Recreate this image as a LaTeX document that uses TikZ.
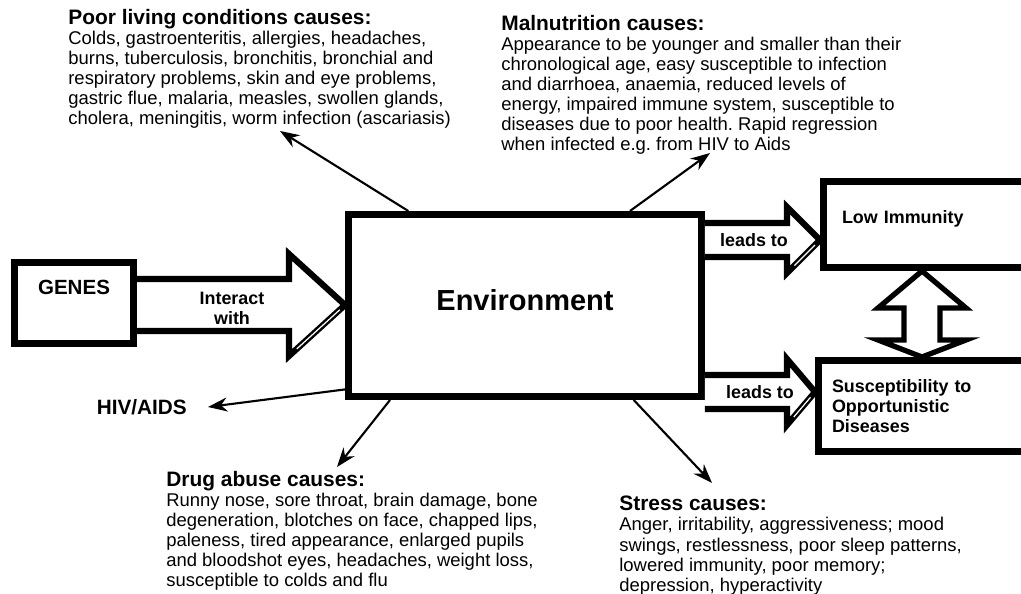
\documentclass[tikz,border=0pt]{standalone}
\usepackage{fontspec}
\setmainfont{Liberation Sans}
\usetikzlibrary{arrows.meta,positioning,calc}
\frenchspacing

\newcommand{\causetitle}[1]{{\bfseries\fontsize{11.9}{11.4}\selectfont #1}}

\begin{document}
\begin{tikzpicture}[x=0.02cm,y=-0.02cm]
	\tikzset{
		box/.style={draw, line width=4pt, fill=white, inner sep=0pt, font={\bfseries\fontsize{10.2}{11.4}\selectfont}},
		blkarrow/.style={draw, line width=3.5pt, line join=miter, fill=white},
		conn/.style={-{Stealth[length=11pt,width=8pt]}, line width=1.2pt},
		causes/.style={anchor=north west, inner sep=0pt, align=left, font={\fontsize{10.5}{11.4}\selectfont}},
		lbl/.style={font={\bfseries\fontsize{10.2}{11.4}\selectfont}, align=center, inner sep=0pt},
	}

	\useasboundingbox (0,0) rectangle (1021,594);
	\clip (0,0) rectangle (1021,594);

	% boxes
	\node[box, minimum width=2.38cm, minimum height=1.62cm, text depth=0.64cm, font={\bfseries\fontsize{11.7}{12}\selectfont}] (genes) at (74,303) {GENES};
	\node[box, minimum width=7.06cm, minimum height=3.64cm, text depth=0.22cm, font={\bfseries\fontsize{16.5}{18}\selectfont}] (env) at (525,305.5) {Environment};
	\node[box, minimum width=4.73cm, minimum height=1.72cm, text width=3.99cm, align=left, text depth=0.31cm] (low) at (941.75,224.5) {Low Immunity};
	\node[box, minimum width=4.83cm, minimum height=1.82cm, text width=4.29cm, align=left] (susc) at (939.25,406) {Susceptibility to\\Opportunistic\\Diseases};

	% block arrows
	\draw[blkarrow] (genes.east |- 0,279) -- (289,279) -- (289,254) -- (env.west |- 0,305) -- (289,356) -- (289,331) -- (genes.east |- 0,331);
	\draw[white, line width=0.7pt, shorten <=6pt, shorten >=4pt] (289,356) -- (env.west |- 0,305);
	\node[lbl] (interact) at (232,308) {Interact\\with};

	\foreach \y/\dst in {240/low, 392/susc}
		{
			\draw[blkarrow] (env.east |- 0,\y-17) -- (787,\y-17) -- (787,\y-33) -- (\dst.west |- 0,\y) -- (787,\y+33) -- (787,\y+17) -- (env.east |- 0,\y+17);
			\draw[white, line width=0.7pt, shorten <=6pt, shorten >=4pt] (787,\y+33) -- (\dst.west |- 0,\y);
		}
	\node[lbl] (leads1) at (754,240) {leads to};
	\node[lbl] (leads2) at (760,392) {leads to};

	\draw[blkarrow, line width=3pt] (low.south -| 922,0) -- (878,308) -- (904,308) -- (904,340) -- (878,340) -- (susc.north -| 922,0) -- (966,340) -- (940,340) -- (940,308) -- (966,308) -- cycle;

	% texts
	\node[causes] (poor) at (68,9) {\causetitle{Poor living conditions causes:}\\
		Colds, gastroenteritis, allergies, headaches,\\
		burns, tuberculosis, bronchitis, bronchial and\\
		respiratory problems, skin and eye problems,\\
		gastric flue, malaria, measles, swollen glands,\\
		cholera, meningitis, worm infection (ascariasis)};
	\node[causes] (malnut) at (501,15) {\causetitle{Malnutrition causes:}\\
		Appearance to be younger and smaller than their\\
		chronological age, easy susceptible to infection\\
		and diarrhoea, anaemia, reduced levels of\\
		energy, impaired immune system, susceptible to\\
		diseases due to poor health. Rapid regression\\
		when infected e.g. from HIV to Aids};
	\node[causes] (drug) at (166,471) {\causetitle{Drug abuse causes:}\\
		Runny nose, sore throat, brain damage, bone\\
		degeneration, blotches on face, chapped lips,\\
		paleness, tired appearance, enlarged pupils\\
		and bloodshot eyes, headaches, weight loss,\\
		susceptible to colds and flu};
	\node[causes] (stress) at (619,496) {\causetitle{Stress causes:}\\
		Anger, irritability, aggressiveness; mood\\
		swings, restlessness, poor sleep patterns,\\
		lowered immunity, poor memory;\\
		depression, hyperactivity};
	\node[lbl, anchor=east, inner xsep=0.42cm, font={\bfseries\fontsize{11.8}{12}\selectfont}] (hiv) at (208,407) {HIV/AIDS};

	% connectors
	\coordinate (pooredge) at (280,131);
	\coordinate (malnutedge) at (710,153);
	\coordinate (drugedge) at (337,467);
	\coordinate (stressedge) at (712,483);
	\draw[conn] (env.141) -- (pooredge);
	\draw[conn] (env.42.5) -- (malnutedge);
	\draw[conn] (env.205) -- (hiv.east);
	\draw[conn] (env.215.4) -- (drugedge);
	\draw[conn] (env.319.8) -- (stressedge);

\end{tikzpicture}
\end{document}
